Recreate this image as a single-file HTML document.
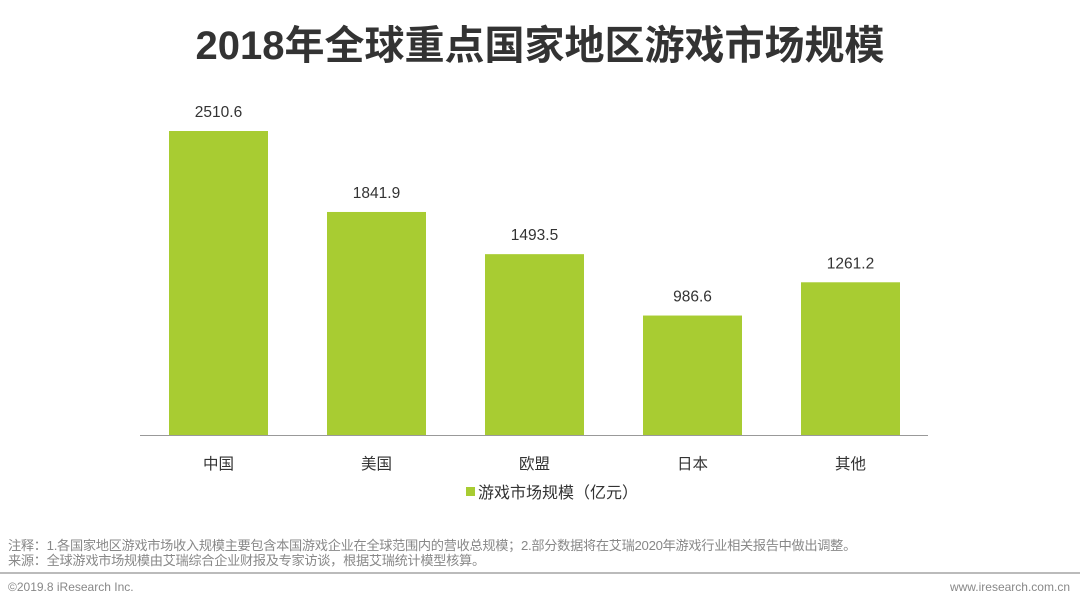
<!DOCTYPE html>
<html><head><meta charset="utf-8"><style>
body{margin:0;width:1080px;height:602px;background:#fff;font-family:"Liberation Sans","Noto Sans CJK SC",sans-serif;overflow:hidden;position:relative}
.t{position:absolute;white-space:nowrap}
</style></head><body>
<div class="t" style="left:0;width:1080px;text-align:center;top:13px;font-size:40px;font-weight:bold;color:#333">2018年全球重点国家地区游戏市场规模</div>
<svg id="c" width="1080" height="602" style="position:absolute;left:0;top:0"></svg>
<div class="t" style="left:8px;top:538px;font-size:13.2px;color:#888;line-height:15px;letter-spacing:-0.3px">注释：1.各国家地区游戏市场收入规模主要包含本国游戏企业在全球范围内的营收总规模；2.部分数据将在艾瑞2020年游戏行业相关报告中做出调整。<br>来源：全球游戏市场规模由艾瑞综合企业财报及专家访谈，根据艾瑞统计模型核算。</div>
<div style="position:absolute;left:0;top:572px;width:1080px;height:2px;background:#bbb"></div>
<div class="t" style="left:8px;top:580px;font-size:12px;color:#888">©2019.8 iResearch Inc.</div>
<div class="t" style="right:10px;top:580px;font-size:12px;color:#888">www.iresearch.com.cn</div>
<script>
const categories=["中国","美国","欧盟","日本","其他"];
const values=[2510.6,1841.9,1493.5,986.6,1261.2];
const svg=document.getElementById('c');
const NS='http://www.w3.org/2000/svg';
const base=435, scale=304/2510.6, x0=169, pitch=158, bw=99;
const y=v=>base-v*scale;
const xf=i=>x0+i*pitch;
function mk(tag,attrs,text){const e=document.createElementNS(NS,tag);for(const k in attrs)e.setAttribute(k,attrs[k]);if(text!==undefined)e.textContent=text;svg.appendChild(e);return e;}
categories.forEach((c,i)=>{
  const r=mk('rect',{x:xf(i),y:y(values[i]),width:bw,height:values[i]*scale,fill:'#a8cc32'});
  
  
  const v=mk('text',{x:xf(i)+bw/2,y:y(values[i])-14,'text-anchor':'middle','font-size':15.5,fill:'#333'},values[i].toFixed(1));
  
  
  const l=mk('text',{x:xf(i)+bw/2,y:469,'text-anchor':'middle','font-size':15.5,fill:'#333'},c);
  
  
});
const ax=mk('line',{x1:140,x2:928,y1:base+0.5,y2:base+0.5,stroke:'#999','stroke-width':1});


const ls=mk('rect',{x:466,y:487,width:9,height:9,fill:'#a8cc32'});


const lt=mk('text',{x:478,y:498,'font-size':16,fill:'#333'},'游戏市场规模（亿元）');


</script>
</body></html>
